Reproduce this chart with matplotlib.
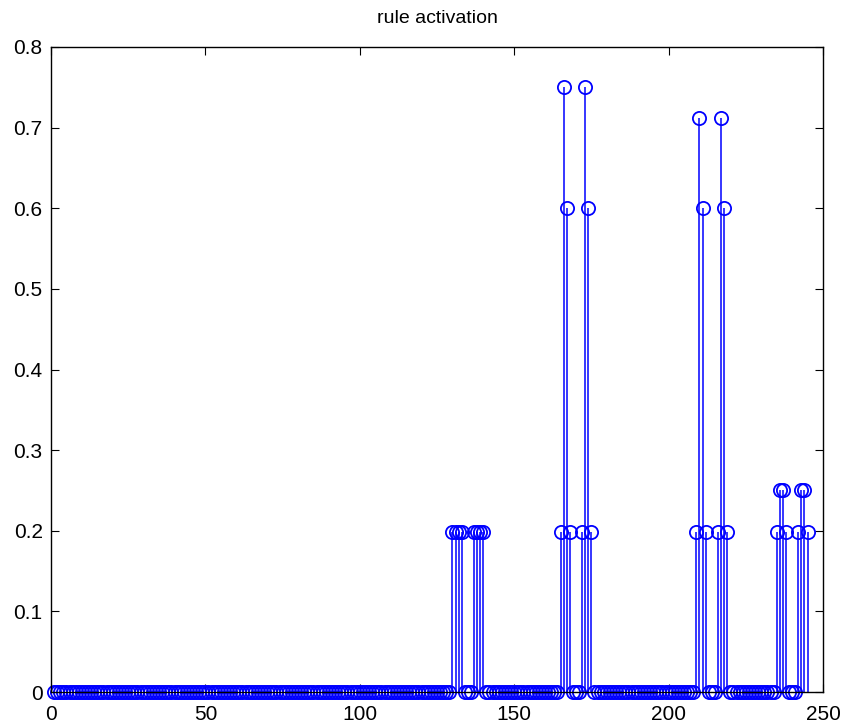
import numpy as np
import matplotlib
matplotlib.use("Agg")
import matplotlib.pyplot as plt

plt.rcParams.update({
    "font.family": ["Liberation Sans", "DejaVu Sans"],
    "font.size": 15,
})

# ---- data: rule activations ----
N_RULES = 245
active_rules = [130, 131, 132, 133, 137, 138, 139, 140,
                165, 166, 167, 168, 172, 173, 174, 175,
                209, 210, 211, 212, 216, 217, 218, 219,
                235, 236, 237, 238, 242, 243, 244, 245]
active_vals = [0.198, 0.198, 0.198, 0.198, 0.198, 0.198, 0.198, 0.198,
               0.198, 0.75, 0.6, 0.198, 0.198, 0.75, 0.6, 0.198,
               0.198, 0.7125, 0.6, 0.198, 0.198, 0.7125, 0.6, 0.198,
               0.198, 0.25, 0.25, 0.198, 0.198, 0.25, 0.25, 0.198]

rules = np.arange(1, N_RULES + 1)
activation = np.zeros(N_RULES)
activation[np.array(active_rules) - 1] = active_vals

# ---- figure ----
fig = plt.figure(figsize=(8.45, 7.28), dpi=100)
ax = fig.add_axes([51 / 845, 36 / 728, 772 / 845, 645 / 728])

markerline, stemlines, baseline = ax.stem(rules, activation)
markerline.set(marker="o", markerfacecolor="none", markeredgecolor="#0000ff",
               markersize=9.5, markeredgewidth=1.3, clip_on=False)
stemlines.set(color="#0000ff", linewidth=1.1)
baseline.set_visible(False)

ax.set_xlim(0, 250)
ax.set_ylim(0, 0.8)
ax.set_xticks(np.arange(0, 251, 50))
ax.set_yticks(np.round(np.arange(0, 0.81, 0.1), 1))
ax.set_yticklabels(["0", "0.1", "0.2", "0.3", "0.4", "0.5", "0.6", "0.7", "0.8"])

ax.tick_params(direction="in", length=6, width=0.8, top=True, right=True)
ax.tick_params(axis="x", pad=9)
ax.tick_params(axis="y", pad=6)
for s in ax.spines.values():
    s.set_linewidth(1.0)

ax.set_title("rule activation", fontsize=14, pad=17)

fig.savefig("out.png", dpi=100)
plt.close(fig)
